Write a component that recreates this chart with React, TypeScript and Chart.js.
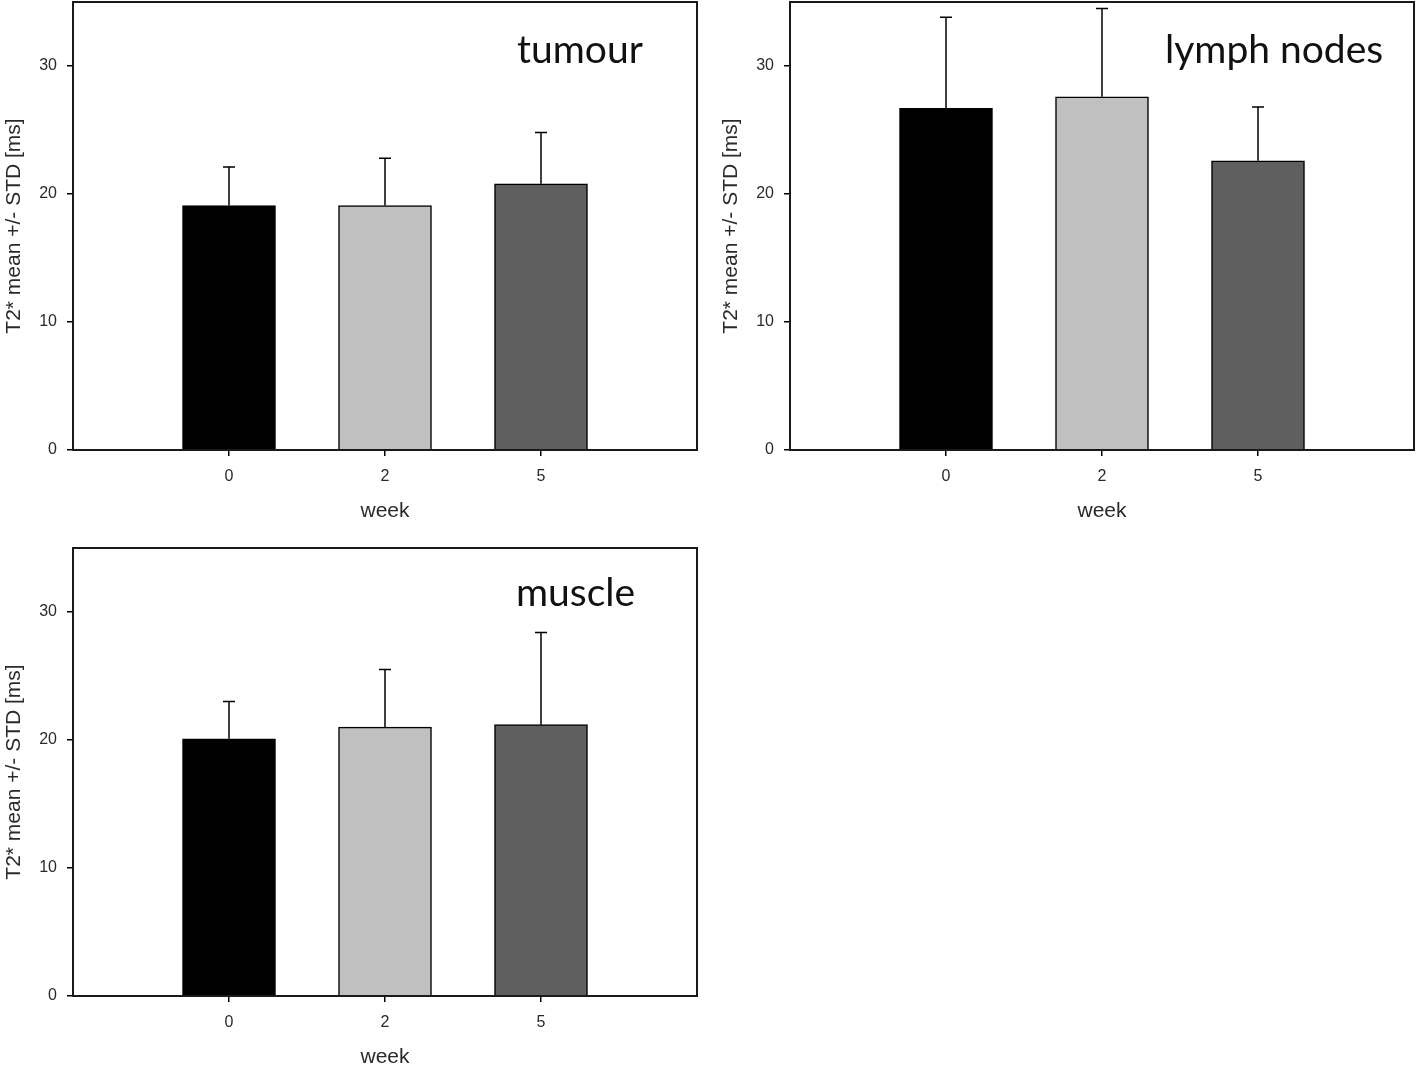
import React, { useEffect, useRef } from 'react';
import { Chart, registerables } from 'chart.js';

Chart.register(...registerables);

const weeks = ['0', '2', '5'];
const tumourMean = [19.1, 19.1, 20.8];
const tumourSD = [3.0, 3.7, 4.0];
const lymphMean = [26.7, 27.6, 22.6];
const lymphSD = [7.1, 6.9, 4.2];
const muscleMean = [20.1, 21.0, 21.2];
const muscleSD = [2.9, 4.5, 7.2];
const barColors = ['#000000', '#c0c0c0', '#5f5f5f'];
const yTicks = [0, 10, 20, 30];
const yMax = 35;
const yTitle = 'T2* mean +/- STD [ms]';
const xTitle = 'week';

const AXIS_FONT = "'Liberation Sans', Arial, sans-serif";
const TITLE_FONT = "Lato, 'Open Sans', sans-serif";

const errorBarPlugin = {
  id: 'errorBars',
  afterDatasetsDraw(chart: any, _args: any, opts: any) {
    const { ctx } = chart;
    const y = chart.scales.y;
    const meta = chart.getDatasetMeta(0);
    const means: number[] = opts.means;
    const sds: number[] = opts.sds;
    meta.data.forEach((el: any, i: number) => {
      const k = i - 1;
      if (k < 0 || k >= means.length) return;
      const top = y.getPixelForValue(means[k] + sds[k]);
      ctx.save();
      ctx.strokeStyle = '#000';
      ctx.lineWidth = 1.5;
      ctx.beginPath();
      ctx.moveTo(el.x, el.y);
      ctx.lineTo(el.x, top);
      ctx.moveTo(el.x - 6, top);
      ctx.lineTo(el.x + 6, top);
      ctx.stroke();
      ctx.restore();
    });
  },
};

const framePlugin = {
  id: 'frame',
  afterDraw(chart: any) {
    const { ctx, chartArea: a } = chart;
    ctx.save();
    ctx.strokeStyle = '#1a1a1a';
    ctx.lineWidth = 2;
    ctx.strokeRect(a.left, a.top, a.right - a.left, a.bottom - a.top);
    ctx.restore();
  },
};

const panelTitlePlugin = {
  id: 'panelTitle',
  afterDraw(chart: any, _args: any, opts: any) {
    const { ctx, chartArea: a } = chart;
    ctx.save();
    ctx.fillStyle = '#111';
    ctx.font = `${opts.size}px ${TITLE_FONT}`;
    ctx.textAlign = 'left';
    ctx.textBaseline = 'alphabetic';
    ctx.fillText(opts.text, a.left + opts.dx, a.top + opts.dy);
    ctx.restore();
  },
};

type PanelProps = {
  title: string;
  means: number[];
  sds: number[];
  left: number;
  top: number;
  width: number;
  height: number;
  padRight: number;
  titleDx: number;
  titleDy: number;
};

function Panel(p: PanelProps) {
  const ref = useRef<HTMLCanvasElement>(null);
  useEffect(() => {
    if (!ref.current) return;
    const labels = ['', ...weeks, ''];
    const data = [null, ...p.means, null];
    const colors = ['#fff', ...barColors, '#fff'];
    const chart = new Chart(ref.current, {
      type: 'bar',
      data: {
        labels,
        datasets: [
          {
            data: data as any,
            backgroundColor: colors,
            borderColor: '#000',
            borderWidth: 1.5,
            barThickness: 93,
          },
        ],
      },
      plugins: [errorBarPlugin, framePlugin, panelTitlePlugin],
      options: {
        animation: false,
        responsive: false,
        maintainAspectRatio: false,
        layout: { padding: { top: 2, right: p.padRight, left: 0, bottom: 0 } },
        plugins: {
          legend: { display: false },
          tooltip: { enabled: false },
          errorBars: { means: p.means, sds: p.sds },
          panelTitle: { text: p.title, dx: p.titleDx, dy: p.titleDy, size: 39 },
        } as any,
        scales: {
          x: {
            type: 'category',
            offset: false,
            grid: {
              offset: false,
              drawOnChartArea: false,
              drawTicks: true,
              tickLength: 6,
              lineWidth: 1.5,
              color: (c: any) => (c.index >= 1 && c.index <= weeks.length ? '#000' : 'rgba(0,0,0,0)'),
            },
            border: { display: false },
            ticks: {
              padding: 11,
              color: '#2a2a2a',
              font: { size: 16, family: AXIS_FONT },
              autoSkip: false,
              maxRotation: 0,
            },
            title: {
              display: true,
              text: xTitle,
              color: '#2a2a2a',
              font: { size: 21, family: AXIS_FONT },
              padding: { top: 4, bottom: 4 },
            },
            afterFit: (s: any) => {
              s.height = 78;
              s.paddingLeft = 0;
              s.paddingRight = 0;
            },
          },
          y: {
            min: 0,
            max: yMax,
            afterBuildTicks: (s: any) => {
              s.ticks = yTicks.map((v) => ({ value: v }));
            },
            grid: { drawOnChartArea: false, tickLength: 6, lineWidth: 1.5, color: '#000' },
            border: { display: false },
            ticks: { padding: 10, color: '#2a2a2a', font: { size: 16, family: AXIS_FONT } },
            title: {
              display: true,
              text: yTitle,
              color: '#2a2a2a',
              font: { size: 21, family: AXIS_FONT },
              padding: { top: 2, bottom: 4 },
            },
            afterFit: (s: any) => {
              s.width = 73;
              s.paddingTop = 0;
              s.paddingBottom = 0;
            },
          },
        } as any,
      },
    });
    return () => chart.destroy();
  }, []);
  return (
    <canvas
      ref={ref}
      width={p.width}
      height={p.height}
      style={{ position: 'absolute', left: p.left, top: p.top, width: p.width, height: p.height }}
    />
  );
}

export default function App() {
  return (
    <div
      style={{
        position: 'absolute',
        left: 0,
        top: 0,
        width: 1418,
        height: 1068,
        overflow: 'hidden',
        background: '#fff',
      }}
    >
      <Panel title="tumour" means={tumourMean} sds={tumourSD} left={0} top={0} width={710} height={528} padRight={13} titleDx={444} titleDy={61} />
      <Panel title="lymph nodes" means={lymphMean} sds={lymphSD} left={717} top={0} width={700} height={528} padRight={3} titleDx={375} titleDy={61} />
      <Panel title="muscle" means={muscleMean} sds={muscleSD} left={0} top={546} width={710} height={528} padRight={13} titleDx={443} titleDy={58} />
    </div>
  );
}
